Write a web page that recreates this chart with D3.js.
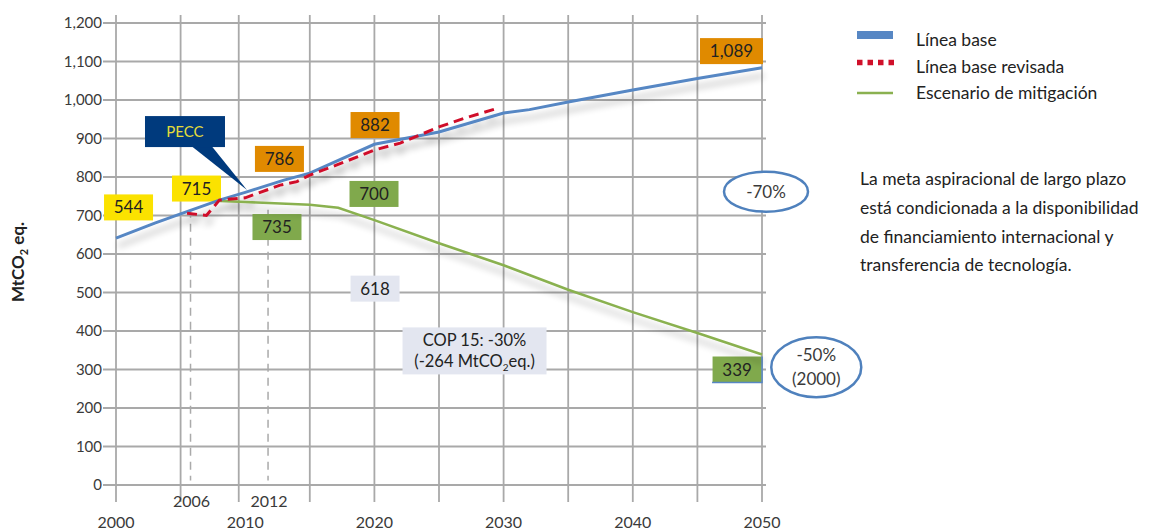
<!DOCTYPE html>
<html><head><meta charset="utf-8">
<script src="https://cdn.jsdelivr.net/npm/d3@7"></script>
<style>
body{margin:0;background:#fff;}
svg{display:block;font-family:Lato,"Open Sans",sans-serif;}
</style>
</head><body><svg id="c" width="1163" height="530"></svg>
<script>
// ---------- data ----------
const baseYears  = [2000,2003,2005,2008,2010,2013,2015,2020,2025,2030,2032,2035,2040,2045,2050];
const baseValues = [641,680,704,740,760,792,810,885,917,966,975,995,1026,1056,1084];
const revYears   = [2005.5,2007,2008,2010,2011,2012.7,2014,2015,2017,2020,2022,2025,2027,2029.6];
const revValues  = [706,700,740,746,758,779,788,805,830,870,888,930,953,979];
const mitYears   = [2008,2010,2015,2017.2,2020,2025,2030,2035,2040,2045,2050];
const mitValues  = [738,735,728,720,688,628,571,507,449,395,339];
const yTicks     = [0,100,200,300,400,500,600,700,800,900,1000,1100,1200];
const xLabelYears = [2000,2010,2020,2030,2040,2050];
const gridYears  = [2000,2005,2009.5,2015,2020,2025,2030,2035,2040,2045,2050];
const markerYears = [2006,2012];
const seriesNames = ["Línea base","Línea base revisada","Escenario de mitigación"];
const boxTexts  = ["544","715","786","882","1,089","700","735","618","339"];
const boxYears  = [2000.97,2006.23,2012.65,2020.05,2047.64,2019.97,2012.46,2020.05,2048.07];
const boxValues = [721,770,847,935,1127,756,670,510,300];
const boxKinds  = ["yellow","yellow","orange","orange","orange","green","green","lav","green"];
const copLines  = ["COP 15: -30%","(-264 MtCO","eq.)"];
const noteLines = ["La meta aspiracional de largo plazo","está condicionada a la disponibilidad","de financiamiento internacional y","transferencia de tecnología."];

// ---------- setup ----------
const svg = d3.select("#c");
const x = d3.scaleLinear().domain([2000,2050]).range([116,762]);
const y = d3.scaleLinear().domain([0,1200]).range([485,23]);
const gridC = "#a9a9a9", txtC = "#3a3a3a";
const blue = "#5787c4", red = "#d0102a", green = "#8ab150";
const fills = {yellow:"#fbe200", orange:"#e08a00", green:"#80a94c", lav:"#e3e6f0"};

const defs = svg.append("defs");
const f = defs.append("filter").attr("id","sh").attr("x","-10%").attr("y","-50%").attr("width","120%").attr("height","250%");
f.append("feGaussianBlur").attr("in","SourceAlpha").attr("stdDeviation",3.5).attr("result","b");
f.append("feOffset").attr("in","b").attr("dx",2).attr("dy",8).attr("result","o");
f.append("feComponentTransfer").attr("in","o").attr("result","o2")
  .append("feFuncA").attr("type","linear").attr("slope",0.28);
const fm = f.append("feMerge");
fm.append("feMergeNode").attr("in","o2");
fm.append("feMergeNode").attr("in","SourceGraphic");

// ---------- grid ----------
const g = svg.append("g");
g.selectAll("line.h").data(yTicks).join("line")
  .attr("x1",103).attr("x2",766).attr("y1",d=>y(d)).attr("y2",d=>y(d))
  .attr("stroke",gridC).attr("stroke-width",1.8);
g.selectAll("line.v").data(gridYears).join("line")
  .attr("x1",d=>x(d)).attr("x2",d=>x(d)).attr("y1",15).attr("y2",502)
  .attr("stroke",gridC).attr("stroke-width",1.8);
g.selectAll("text.yl").data(yTicks).join("text")
  .attr("x",102).attr("y",d=>y(d)+5).attr("text-anchor","end")
  .attr("font-size",15).attr("fill",txtC).text(d=>d3.format(",")(d));
g.selectAll("text.xl").data(xLabelYears).join("text")
  .attr("x",d=>x(d)).attr("y",528).attr("text-anchor","middle")
  .attr("font-size",16).attr("fill",txtC).text(d=>d);
// reference dashed lines
g.selectAll("line.m").data(markerYears).join("line")
  .attr("x1",d=>x(d)-3).attr("x2",d=>x(d)-3).attr("y1",y(715)).attr("y2",y(12))
  .attr("stroke","#aaa").attr("stroke-width",1.5).attr("stroke-dasharray","8,6");
g.selectAll("text.ml").data(markerYears).join("text")
  .attr("x",d=>x(d)-2).attr("y",507).attr("text-anchor","middle")
  .attr("font-size",16).attr("fill",txtC).text(d=>d);

// y title
svg.append("text").attr("transform","translate(24,262) rotate(-90)")
  .attr("text-anchor","middle").attr("font-size",17).attr("font-weight",700).attr("fill","#222")
  .call(t=>{t.append("tspan").text("MtCO");
           t.append("tspan").attr("font-size",11).attr("dy",4).text("2");
           t.append("tspan").attr("dy",-4).text(" eq.");});

// ---------- annotation boxes ----------
const ann = svg.append("g");
boxTexts.forEach((t,i)=>{
  const w = t.length>3 ? 63 : 49, h = 26;
  const cx = x(boxYears[i]), cy = y(boxValues[i]);
  ann.append("rect").attr("x",cx-w/2).attr("y",cy-h/2).attr("width",w).attr("height",h)
    .attr("fill",fills[boxKinds[i]]);
  ann.append("text").attr("x",cx).attr("y",cy+6).attr("text-anchor","middle")
    .attr("font-size",17).attr("fill","#222").text(t);
});
// blue edge on 339
{
  const i = boxTexts.indexOf("339");
  const cx = x(boxYears[i]), cy = y(boxValues[i]);
  ann.append("path").attr("d",`M${cx+25},${cy-13}V${cy+13}H${cx-25}`)
    .attr("fill","none").attr("stroke",blue).attr("stroke-width",1.5);
}
// COP 15 box
{
  const cx = x(2027.75), cy = y(347);
  ann.append("rect").attr("x",cx-72).attr("y",cy-24).attr("width",144).attr("height",47).attr("fill",fills.lav);
  ann.append("text").attr("x",cx).attr("y",cy-5).attr("text-anchor","middle").attr("font-size",16.5).attr("fill","#222").text(copLines[0]);
  const t2 = ann.append("text").attr("x",cx).attr("y",cy+16).attr("text-anchor","middle").attr("font-size",16.5).attr("fill","#222");
  t2.append("tspan").text(copLines[1]);
  t2.append("tspan").attr("font-size",10).attr("dy",4).text("2");
  t2.append("tspan").attr("dy",-4).text(copLines[2]);
}

// ---------- series ----------
const line = d3.line().x(d=>x(d[0])).y(d=>y(d[1]));
const lines = svg.append("g").attr("filter","url(#sh)");
lines.append("path").datum(d3.zip(mitYears,mitValues)).attr("d",line)
  .attr("fill","none").attr("stroke",green).attr("stroke-width",2.6);
lines.append("path").datum(d3.zip(baseYears,baseValues)).attr("d",line)
  .attr("fill","none").attr("stroke",blue).attr("stroke-width",3);
lines.append("path").datum(d3.zip(revYears,revValues)).attr("d",line)
  .attr("fill","none").attr("stroke",red).attr("stroke-width",3).attr("stroke-dasharray","10,6");

// ---------- PECC callout ----------
{
  const bx = x(2005.34), by = y(918), tx = x(2010.14), ty = y(766);
  svg.append("path").attr("d",`M${bx+7},${by+15}L${tx},${ty}L${bx+27},${by+15}Z`).attr("fill","#003a7d");
  svg.append("rect").attr("x",bx-40).attr("y",by-15.5).attr("width",80).attr("height",31).attr("fill","#003a7d");
  svg.append("text").attr("x",bx).attr("y",by+5).attr("text-anchor","middle").attr("font-size",15)
    .attr("fill","#e3dc3a").text("PECC");
}

// ---------- ellipses ----------
{
  const e1x = x(2050.31), e1y = y(762);
  svg.append("ellipse").attr("cx",e1x).attr("cy",e1y).attr("rx",42).attr("ry",20)
    .attr("fill","#fff").attr("stroke","#4f81bd").attr("stroke-width",2.5);
  svg.append("text").attr("x",e1x).attr("y",e1y+6).attr("text-anchor","middle").attr("font-size",17).attr("fill",txtC).text("-70%");
  const e2x = x(2054.2), e2y = y(306);
  svg.append("ellipse").attr("cx",e2x).attr("cy",e2y).attr("rx",45).attr("ry",30)
    .attr("fill","#fff").attr("stroke","#4f81bd").attr("stroke-width",2.5);
  svg.append("text").attr("x",e2x).attr("y",e2y-6).attr("text-anchor","middle").attr("font-size",17).attr("fill",txtC).text("-50%");
  svg.append("text").attr("x",e2x).attr("y",e2y+18).attr("text-anchor","middle").attr("font-size",17).attr("fill",txtC).text("(2000)");
}

// ---------- legend ----------
const lg = svg.append("g");
lg.append("rect").attr("x",857).attr("y",31).attr("width",36).attr("height",8).attr("fill",blue);
lg.append("line").attr("x1",857).attr("x2",894).attr("y1",62.5).attr("y2",62.5)
  .attr("stroke",red).attr("stroke-width",5.5).attr("stroke-dasharray","5.5,5");
lg.append("line").attr("x1",857).attr("x2",893).attr("y1",93).attr("y2",93)
  .attr("stroke",green).attr("stroke-width",2.5);
lg.selectAll("text").data(seriesNames).join("text")
  .attr("x",916).attr("y",(d,i)=>46+i*26.5).attr("font-size",17.5).attr("fill","#222").text(d=>d);

// note
svg.append("g").selectAll("text").data(noteLines).join("text")
  .attr("x",860).attr("y",(d,i)=>185+i*28.8).attr("font-size",17.5).attr("fill","#222").text(d=>d);
</script>
</body></html>
